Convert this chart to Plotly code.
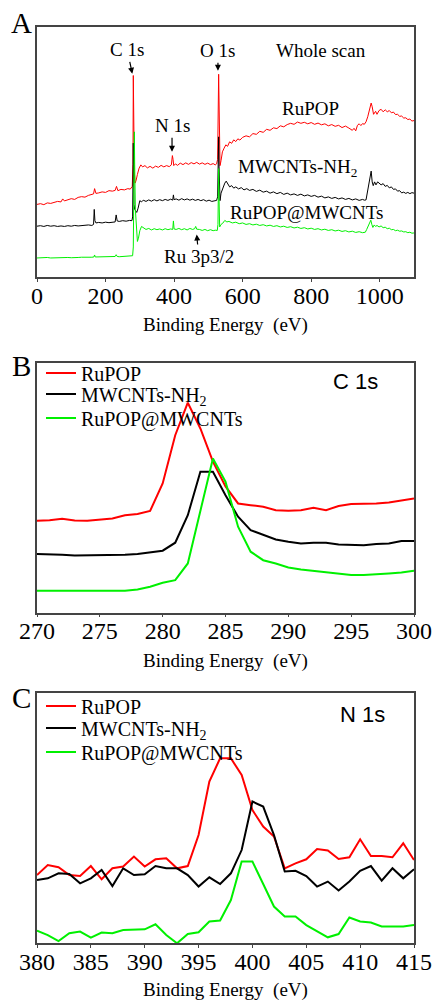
import plotly.graph_objects as go

# ---------------- Panel A: whole scan ----------------
a_red_x = [0,10,20,30,40,50,60,70,75,80,90,100,110,120,130,140,150,160,165,168,172,180,190,200,210,220,228,232,236,245,255,265,272,278,280,281,282,284,286,289,293,298,303,308,315,322,330,338,346,354,362,370,378,386,392,395,397,399,404,410,418,426,434,442,450,458,466,474,482,490,498,506,514,520,524,527,530,531,532,534,537,541,546,551,556,562,568,574,580,586,592,600,610,620,630,640,650,660,670,680,690,700,710,720,730,740,750,760,770,780,790,800,810,820,830,840,850,860,870,880,890,900,910,920,925,930,935,940,945,950,955,960,965,970,975,978,982,988,992,998,1004,1010,1016,1022,1028,1034,1040,1046,1052,1058,1064,1070,1076,1082,1088,1094,1100]
a_red_y = [29.0,29.3,28.9,29.6,29.4,29.9,30.2,30.0,31.2,30.4,30.9,31.3,31.0,31.8,32.1,31.9,32.6,33.0,33.2,35.3,33.4,33.6,34.0,33.8,34.5,34.3,34.6,36.2,34.5,35.0,34.8,35.3,35.1,36.2,45,80.5,62,42,37.5,38.5,41,43.5,44.8,44.0,44.5,43.6,44.2,43.5,44.3,43.8,44.6,44.0,44.5,44.1,44.8,48.5,47.0,44.5,45.2,44.6,45.5,44.9,45.6,45.0,45.7,45.2,45.8,45.1,45.6,45.0,45.5,44.9,45.3,44.8,45.2,47,81,70,55,44.5,46.5,50.0,51.5,52.8,52.2,54.0,53.4,54.8,54.1,55.2,54.7,55.8,56.4,56.0,57.3,57.0,58.2,57.8,59.0,58.6,59.6,59.3,60.4,60.0,60.9,61.4,61.0,61.9,61.4,61.8,61.2,61.7,61.0,61.5,60.8,61.2,60.4,60.9,60.2,60.6,59.7,60.3,59.5,58.6,59.4,58.4,60.6,61.2,60.5,61.3,61.0,62.0,64.0,67.0,69.5,68.0,65.0,66.2,65.0,66.5,67.0,66.0,66.8,66.0,66.5,65.6,65.9,64.9,65.0,64.2,64.3,63.5,63.6,62.9,63.1,62.3,62.5]

a_blk_x = [0,10,20,30,40,50,60,70,80,90,100,110,120,130,140,150,160,165,167,169,172,180,190,200,210,220,228,231,234,240,250,260,270,277,279,281,282,283,285,288,291,295,300,305,310,318,326,334,342,350,358,366,374,382,390,396,398,400,406,414,422,430,438,446,454,462,470,478,486,494,502,510,518,524,527,530,531,532,534,537,542,548,552,556,562,568,574,580,588,596,604,612,620,630,640,650,660,670,680,690,700,710,720,730,740,750,760,770,780,790,800,810,820,830,840,850,860,870,880,890,900,910,920,930,940,950,955,960,964,970,975,978,981,985,989,994,998,1004,1010,1016,1022,1028,1034,1040,1046,1052,1058,1064,1070,1076,1082,1088,1094,1100]
a_blk_y = [20.3,20.5,20.2,20.6,20.3,20.5,20.2,20.4,20.2,20.5,20.3,20.6,20.4,20.6,20.5,20.8,20.6,21.0,27.0,22.5,21.6,21.8,21.6,21.9,21.7,21.9,22.0,24.8,22.4,22.2,22.5,22.3,22.6,22.5,24.0,53.5,38.0,29.0,27.0,26.5,25.8,27.5,30.5,30.0,30.7,30.2,30.8,30.3,30.9,30.4,30.9,30.5,31.0,30.6,31.1,30.7,32.8,30.9,31.2,30.7,31.3,30.8,31.2,30.7,31.1,30.6,31.0,30.5,30.9,30.3,30.7,30.2,30.4,30.6,32.0,56.0,45.0,32.0,30.5,33.5,35.5,37.5,38.3,37.2,36.0,36.5,35.5,36.0,35.2,35.7,34.8,35.3,34.6,35.0,34.2,34.7,33.9,34.3,33.5,34.0,33.3,33.8,33.0,33.5,32.8,33.2,32.6,33.1,32.4,32.8,32.2,32.6,31.9,32.3,31.6,32.0,31.4,31.8,31.2,31.6,31.0,31.4,30.8,31.2,30.6,31.0,30.7,30.8,34.0,39.0,42.3,38.0,36.5,38.0,36.8,38.0,37.6,36.8,37.3,36.2,36.6,35.6,36.0,35.0,35.2,34.3,34.5,33.6,33.9,33.4,33.8,33.3,33.7,33.5]

a_grn_x = [0,10,20,30,40,50,60,70,80,90,100,110,120,130,140,150,160,166,168,170,180,190,200,210,220,228,231,234,240,250,260,270,276,279,281,283,284,285,287,290,293,296,300,305,310,318,326,334,342,350,358,366,374,382,390,396,398,400,406,414,422,430,438,446,454,460,463,466,474,482,490,498,506,514,520,526,528,530,531,533,537,542,548,554,560,570,580,590,600,610,620,630,640,650,660,670,680,690,700,710,720,730,740,750,760,770,780,790,800,810,820,830,840,850,860,870,880,890,900,910,920,930,940,950,958,962,966,970,974,977,980,984,988,992,998,1004,1010,1016,1022,1028,1034,1040,1046,1052,1058,1064,1070,1076,1082,1088,1094,1100]
a_grn_y = [7.6,7.7,7.5,7.8,7.6,7.7,7.6,7.8,7.7,7.8,7.7,7.9,7.8,7.9,7.8,8.0,7.9,8.0,8.8,8.0,8.0,8.1,8.0,8.1,8.0,8.2,8.9,8.2,8.1,8.2,8.1,8.2,8.3,8.5,12.0,40.0,58.0,45.0,27.0,18.0,14.2,15.5,18.5,20.2,19.6,19.0,19.4,18.8,19.3,18.9,19.2,18.8,19.3,18.9,19.2,19.0,22.4,19.2,19.0,19.4,18.9,19.3,18.8,19.4,19.0,19.3,20.2,19.1,19.0,18.6,19.0,18.5,18.9,18.5,18.7,18.6,21.0,43.3,32.0,20.0,21.0,21.5,22.6,22.0,22.2,21.6,21.9,21.3,21.6,21.0,21.3,20.8,21.1,20.6,20.9,20.4,20.7,20.2,20.5,20.0,20.3,19.8,20.1,19.6,19.9,19.4,19.7,19.2,19.5,19.0,19.3,18.8,19.1,18.6,18.9,18.4,18.7,18.2,18.5,18.0,18.3,17.8,18.1,17.7,17.9,19.0,20.5,22.0,22.7,21.0,19.8,20.8,20.2,20.6,20.0,20.4,19.7,19.9,19.3,19.5,18.9,19.0,18.5,18.7,18.3,18.4,18.0,18.1,17.7,17.9,17.5,17.6]

a_ticks = [0, 200, 400, 600, 800, 1000]

# ---------------- Panel B: C 1s ----------------
b_x = list(range(270, 301))
b_red = [36.8,37.0,37.6,36.9,36.8,37.2,37.7,39.0,39.5,40.7,51.7,71.0,84.0,73.7,60.4,50.5,43.7,43.0,42.4,41.0,40.8,41.0,42.0,41.0,42.7,43.5,43.5,43.7,44.1,45.0,45.7]
b_blk = [23.5,23.5,23.2,22.9,22.9,22.9,22.9,23.2,23.5,24.0,24.8,28.0,39.0,56.4,56.4,47.0,38.4,33.0,31.0,29.3,28.4,27.7,28.0,28.0,27.3,27.3,27.0,27.5,27.7,28.7,28.7]
b_grn = [8.8,8.8,8.8,8.8,8.8,8.8,8.8,8.8,9.3,10.4,12.0,13.0,19.7,41.0,61.7,52.4,34.4,24.4,21.0,19.7,18.1,17.3,16.8,16.0,15.5,15.1,15.1,15.3,15.7,16.1,16.8]
b_ticks = [270, 275, 280, 285, 290, 295, 300]

# ---------------- Panel C: N 1s ----------------
c_x = list(range(380, 416))
c_red = [27.3,31.3,30.4,27.3,26.9,30.9,25.6,30.0,30.7,34.7,30.7,33.6,34.0,30.0,30.9,43.3,64.7,74.0,74.0,67.3,53.3,46.7,42.7,30.0,32.0,33.6,37.7,37.1,33.7,34.4,41.6,34.9,34.9,34.4,40.0,33.3]
c_blk = [25.3,26.0,28.0,27.7,24.0,26.0,29.3,22.9,30.0,27.3,27.6,30.9,30.0,30.0,27.3,22.7,26.4,23.7,28.0,37.3,56.7,54.7,43.3,28.7,29.0,26.9,22.7,24.7,21.1,24.7,29.0,30.9,25.1,30.0,26.0,29.6]
c_grn = [5.1,3.3,0.9,4.0,4.7,2.3,4.3,4.0,5.3,5.6,5.6,7.6,3.3,0.0,3.7,4.4,8.7,9.1,17.3,32.7,32.7,23.7,14.7,10.7,10.7,7.3,4.7,2.4,3.7,10.3,8.7,8.3,6.7,6.7,6.7,7.3]
c_ticks = [380, 385, 390, 395, 400, 405, 410, 415]

names = ["RuPOP", "MWCNTs-NH<sub>2</sub>", "RuPOP@MWCNTs"]
colors = ["#ff0000", "#000000", "#00f000"]

SERIF = "Liberation Serif"
SANS = "Liberation Sans"
W, H = 434, 1001

fig = go.Figure()

for xs, ys, col in [(a_red_x, a_red_y, colors[0]), (a_blk_x, a_blk_y, colors[1]), (a_grn_x, a_grn_y, colors[2])]:
    fig.add_trace(go.Scatter(x=xs, y=ys, mode="lines", line=dict(color=col, width=1),
                             showlegend=False, xaxis="x", yaxis="y", hoverinfo="skip"))

legB = ["legend2", "legend3", "legend4"]
legC = ["legend5", "legend6", "legend7"]

for ys, nm, col, lg in zip([b_red, b_blk, b_grn], names, colors, legB):
    fig.add_trace(go.Scatter(x=b_x, y=ys, mode="lines", name=nm, line=dict(color=col, width=2),
                             xaxis="x2", yaxis="y2", legend=lg, hoverinfo="skip"))

for ys, nm, col, lg in zip([c_red, c_blk, c_grn], names, colors, legC):
    fig.add_trace(go.Scatter(x=c_x, y=ys, mode="lines", name=nm, line=dict(color=col, width=2),
                             xaxis="x3", yaxis="y3", legend=lg, hoverinfo="skip"))


def ydom(top_px, bottom_px):
    return [1 - bottom_px / H, 1 - top_px / H]


frame = dict(showline=True, linecolor="#444444", linewidth=1.5, mirror=True,
             showgrid=False, zeroline=False)
tickfont = dict(family=SERIF, size=24, color="black")
xtitle = dict(text="Binding Energy\u00a0\u00a0(eV)", font=dict(family=SERIF, size=19, color="black"), standoff=10)


def xax(rng, ticks, anchor):
    return dict(domain=[0, 1], anchor=anchor, range=rng, tickmode="array", tickvals=ticks,
                ticks="outside", ticklen=3, tickcolor="#444444", tickfont=tickfont,
                ticklabelstandoff=-7, title=xtitle, **frame)


def yax(dom, anchor):
    return dict(domain=dom, anchor=anchor, range=[0, 100], showticklabels=False, ticks="", **frame)


legend_common = dict(x=4 / 377, xanchor="left", yanchor="middle", bgcolor="rgba(0,0,0,0)",
                     font=dict(family=SERIF, size=20, color="black"), tracegroupgap=0, itemwidth=30)

domA = ydom(26.7, 277)
domB = ydom(362.7, 612.7)
domC = ydom(693.3, 943.3)

legend_rows = {"legend2": 373, "legend3": 394, "legend4": 418,
               "legend5": 706, "legend6": 728, "legend7": 752}

fig.update_layout(
    width=W, height=H,
    margin=dict(l=37, r=20, t=0, b=0),
    paper_bgcolor="white", plot_bgcolor="white",
    xaxis=xax([0, 1100], a_ticks, "y"),
    yaxis=yax(domA, "x"),
    xaxis2=xax([270, 300], b_ticks, "y2"),
    yaxis2=yax(domB, "x2"),
    xaxis3=xax([380, 415], c_ticks, "y3"),
    yaxis3=yax(domC, "x3"),
    **{lg: dict(y=1 - py / H, **legend_common) for lg, py in legend_rows.items()},
)

anns = []
# panel letters
for letter, ypx in [("A", 23), ("B", 366), ("C", 698)]:
    anns.append(dict(text=letter, xref="paper", yref="paper", x=(21 - 37) / 377, y=1 - ypx / H,
                     showarrow=False, font=dict(family=SERIF, size=29, color="black"),
                     xanchor="center", yanchor="middle"))

lab_font = dict(family=SERIF, size=19, color="black")
# panel A labels without arrows
for txt, xv, yv in [("Whole scan", 828, 90.3), ("RuPOP", 799, 67.5),
                    ("MWCNTs-NH<sub>2</sub>", 761, 43.5), ("RuPOP@MWCNTs", 785, 25.9)]:
    anns.append(dict(text=txt, xref="x", yref="y", x=xv, y=yv, showarrow=False, font=lab_font,
                     xanchor="center", yanchor="middle"))

# panel A labels with arrows (x, y = arrow tip; ax, ay = label offset in px)
for txt, xv, yv, ax, ay in [("C 1s", 278, 81.2, -5, -24), ("O 1s", 528, 82.4, 0, -20),
                            ("N 1s", 394, 50.0, 0, -26), ("Ru 3p3/2", 466, 17.0, 2, 22)]:
    anns.append(dict(text=txt, xref="x", yref="y", x=xv, y=yv, ax=ax, ay=ay, showarrow=True,
                     arrowhead=2, arrowsize=1, arrowwidth=1.2, arrowcolor="black", font=lab_font))

# panel B/C labels
anns.append(dict(text="C 1s", xref="paper", yref="paper", x=(355 - 37) / 377, y=1 - 381 / H,
                 xanchor="center", yanchor="middle",
                 showarrow=False, font=dict(family=SANS, size=22, color="black")))
anns.append(dict(text="N 1s", xref="paper", yref="paper", x=(362 - 37) / 377, y=1 - 714 / H,
                 xanchor="center", yanchor="middle",
                 showarrow=False, font=dict(family=SANS, size=22, color="black")))

fig.update_layout(annotations=anns)

fig.write_html("out.html")
